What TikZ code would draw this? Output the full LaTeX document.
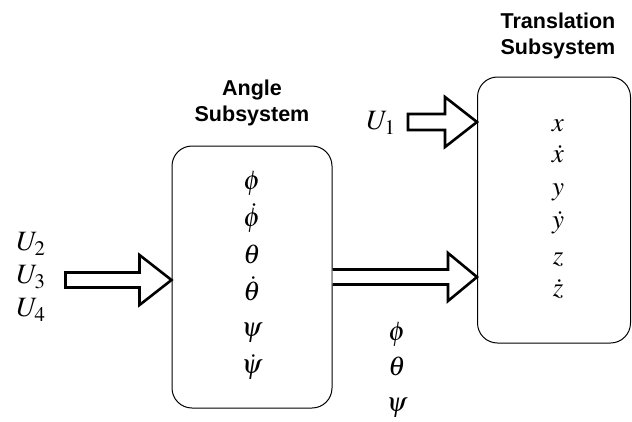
\documentclass[tikz,border=0pt]{standalone}
\usepackage{mathptmx}
\usepackage{fontspec}
\newfontfamily\headfont{Liberation Sans}
\usetikzlibrary{calc}
\begin{document}
\begin{tikzpicture}[x=1pt,y=-1pt,
  subsys/.style={draw,line width=1pt,rounded corners=20pt,inner sep=0pt},
  heading/.style={font=\headfont\bfseries\fontsize{21.5}{26}\selectfont,align=center},
  var/.style={font=\fontsize{27}{30}\selectfont,inner sep=0pt,text height=8pt,text depth=2pt},
  inlabel/.style={font=\fontsize{28}{32}\selectfont,inner sep=0pt},
  fatarrow/.style={draw,line width=2.6pt,fill=white,line join=miter}]
\useasboundingbox (0,0) rectangle (632,421);

% subsystem blocks
\node[subsys,minimum width=160pt,minimum height=262pt] (ang) at (252,277) {};
\node[subsys,minimum width=153pt,minimum height=266pt] (tr) at (554,210) {};

% headings
\node[heading] (angh) at (252,103) {Angle\\Subsystem};
\node[heading] (trh) at (558,36) {Translation\\Subsystem};

% angle states
\foreach \s/\yy [count=\i] in {\phi/186,\dot\phi/223,\theta/260,\dot\theta/297,\psi/333,\dot\psi/370}
  \node[var] (a\i) at (252,\yy) {$\s$};

% translation states
\foreach \s/\yy [count=\i] in {x/128,\dot x/159,y/192,\dot y/225,z/261,\dot z/293}
  \node[var] (t\i) at (558,\yy) {$\s$};

% inputs
\node[inlabel] (u2) at (31,244) {$U_2$};
\node[inlabel] (u3) at (31,277) {$U_3$};
\node[inlabel] (u4) at (31,310) {$U_4$};
\node[inlabel] (u1) at (381,123) {$U_1$};

% angles passed on
\node[var] (p1) at (397,337) {$\phi$};
\node[var] (p2) at (397,372) {$\theta$};
\node[var] (p3) at (397,408) {$\psi$};

% hollow arrows
\coordinate (tipA) at (ang.west |- 0,280);
\draw[fatarrow] ($(tipA)+(-106,-7.5)$) -- ($(tipA)+(-32,-7.5)$) -- ($(tipA)+(-32,-25)$)
  -- (tipA) -- ($(tipA)+(-32,25)$) -- ($(tipA)+(-32,7.5)$) -- ($(tipA)+(-106,7.5)$) -- cycle;

\coordinate (tipB) at (tr.west |- 0,122);
\draw[fatarrow] ($(tipB)+(-69,-8)$) -- ($(tipB)+(-32,-8)$) -- ($(tipB)+(-32,-25)$)
  -- (tipB) -- ($(tipB)+(-32,25)$) -- ($(tipB)+(-32,8)$) -- ($(tipB)+(-69,8)$) -- cycle;

\coordinate (tailC) at (ang.east |- 0,277);
\coordinate (tipC) at (tr.west |- 0,277);
\draw[fatarrow] ($(tailC)+(0,-7.5)$) -- ($(tipC)+(-29,-7.5)$) -- ($(tipC)+(-29,-24)$)
  -- (tipC) -- ($(tipC)+(-29,24)$) -- ($(tipC)+(-29,7.5)$) -- ($(tailC)+(0,7.5)$);
\end{tikzpicture}
\end{document}
